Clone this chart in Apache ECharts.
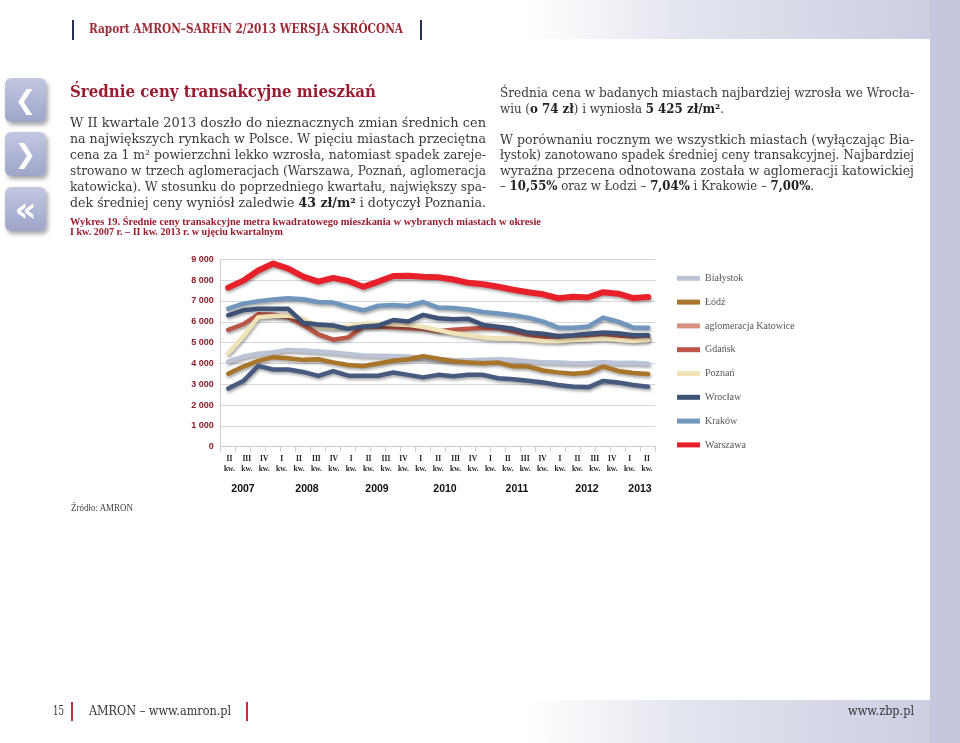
<!DOCTYPE html>
<html><head><meta charset="utf-8">
<script src="https://cdn.jsdelivr.net/npm/echarts@6/dist/echarts.min.js"></script>
<style>
html,body{margin:0;padding:0;width:960px;height:743px;overflow:hidden;background:#fff;font-family:'DejaVu Serif',serif;}
.abs{position:absolute;}
.t{position:absolute;white-space:nowrap;line-height:16px;height:16px;transform-origin:0 50%;z-index:3;color:#3a3a3a;}
.t b{font-weight:bold;color:#222;}
.box{position:absolute;left:5px;width:41px;height:44px;border-radius:6px;background:linear-gradient(#c3c7e0,#9ea5c9);box-shadow:2px 3px 4px rgba(0,0,0,0.35);color:#fff;font:bold 26px 'DejaVu Sans',sans-serif;text-align:center;line-height:44px;z-index:3;}
.bar{position:absolute;width:2px;z-index:3;}
</style></head><body>
<div class="abs" style="left:0;top:0;width:960px;height:39px;background:linear-gradient(to right,#fff 0%,#fff 55%,#e2e4ee 72%,#c9cce0 100%)"></div>
<div class="abs" style="left:0;top:700px;width:960px;height:43px;background:linear-gradient(to right,#fff 0%,#fff 55%,#e2e4ee 72%,#c9cce0 100%)"></div>
<div class="abs" style="left:930px;top:0;width:30px;height:743px;background:#c4c7dd"></div>

<div class="bar" style="left:72px;top:20px;height:20px;background:#27304f"></div>
<div class="bar" style="left:420px;top:20px;height:20px;background:#27304f"></div>
<div class="t" data-w="314" style="left:89px;top:22px;font:bold 12px 'DejaVu Serif',serif;color:#9e2a36;">Raport AMRON–SARFiN 2/2013 WERSJA SKRÓCONA</div>

<div class="box" style="top:78px">❮</div>
<div class="box" style="top:132px">❯</div>
<div class="box" style="top:187px;font-size:34px;">«</div>

<div class="t" data-w="306" style="left:70px;top:81px;height:20px;line-height:20px;font:bold 17px 'DejaVu Serif',serif;color:#9b1b30;">Średnie ceny transakcyjne mieszkań</div>

<div class="t" data-w="416" data-j="1" style="left:70px;top:115px;font-size:13px;">W II kwartale 2013 doszło do nieznacznych zmian średnich cen</div>
<div class="t" data-w="416" data-j="1" style="left:70px;top:131px;font-size:13px;">na największych rynkach w Polsce. W pięciu miastach przeciętna</div>
<div class="t" data-w="416" data-j="1" style="left:70px;top:147px;font-size:13px;">cena za 1 m² powierzchni lekko wzrosła, natomiast spadek zareje-</div>
<div class="t" data-w="416" data-j="1" style="left:70px;top:163px;font-size:13px;">strowano w trzech aglomeracjach (Warszawa, Poznań, aglomeracja</div>
<div class="t" data-w="416" data-j="1" style="left:70px;top:179px;font-size:13px;">katowicka). W stosunku do poprzedniego kwartału, największy spa-</div>
<div class="t" data-w="416" data-j="1" style="left:70px;top:195px;font-size:13px;">dek średniej ceny wyniósł zaledwie <b>43 zł/m²</b> i dotyczył Poznania.</div>

<div class="t" data-w="414" data-j="1" style="left:500px;top:85px;font-size:13px;">Średnia cena w badanych miastach najbardziej wzrosła we Wrocła-</div>
<div class="t" data-w="224" style="left:500px;top:101px;font-size:13px;">wiu (<b>o 74 zł</b>) i wyniosła <b>5 425 zł/m²</b>.</div>
<div class="t" data-w="414" data-j="1" style="left:500px;top:132px;font-size:13px;">W porównaniu rocznym we wszystkich miastach (wyłączając Bia-</div>
<div class="t" data-w="414" data-j="1" style="left:500px;top:147px;font-size:13px;">łystok) zanotowano spadek średniej ceny transakcyjnej. Najbardziej</div>
<div class="t" data-w="414" data-j="1" style="left:500px;top:163px;font-size:13px;">wyraźna przecena odnotowana została w aglomeracji katowickiej</div>
<div class="t" data-w="314" style="left:500px;top:178px;font-size:13px;">– <b>10,55%</b> oraz w Łodzi – <b>7,04%</b> i Krakowie – <b>7,00%</b>.</div>

<div class="t" data-w="471" style="left:70px;top:216px;font:bold 10px 'Liberation Serif',serif;color:#9b1b30;">Wykres 19. Średnie ceny transakcyjne metra kwadratowego mieszkania w wybranych miastach w okresie</div>
<div class="t" data-w="213" style="left:70px;top:226px;font:bold 10px 'Liberation Serif',serif;color:#9b1b30;">I kw. 2007 r. – II kw. 2013 r. w ujęciu kwartalnym</div>

<div class="t" data-w="62" style="left:71px;top:503px;font:9.5px 'Liberation Serif',serif;color:#444;">Źródło: AMRON</div>

<div class="t" data-w="11" style="left:53px;top:703px;font-size:12px;color:#333;">15</div>
<div class="bar" style="left:71px;top:702px;height:19px;width:1.5px;background:#c0303e"></div>
<div class="t" data-w="142" style="left:89px;top:703px;font-size:12px;color:#333;">AMRON – www.amron.pl</div>
<div class="bar" style="left:246px;top:702px;height:19px;width:1.5px;background:#c0303e"></div>
<div class="t" data-w="66" style="left:848px;top:703px;font-size:12px;color:#333;">www.zbp.pl</div>

<div id="chart" class="abs" style="left:0;top:0;width:960px;height:743px;z-index:2"></div>

<script>
// ---- data ----
const samplePoints = ['p1','p2','p3','p4','p5','p6','p7','p8','p9','p10','p11','p12','p13','p14','p15','p16','p17','p18','p19','p20','p21','p22','p23','p24','p25','p26','p27','p28','p29'];
const quarterLabels = ['II','III','IV','I','II','III','IV','I','II','III','IV','I','II','III','IV','I','II','III','IV','I','II','III','IV','I','II'];
const yearLabels = ['2007','2008','2009','2010','2011','2012','2013'];
const yTicks = [0,1000,2000,3000,4000,5000,6000,7000,8000,9000];

const bialystok = [4080,4330,4460,4540,4650,4620,4570,4520,4450,4380,4370,4360,4330,4250,4200,4160,4150,4170,4200,4170,4100,4050,4040,4010,4020,4050,4020,4030,3980];
const lodz      = [3500,3850,4120,4300,4250,4170,4200,4050,3920,3880,4000,4130,4200,4350,4230,4100,4050,4010,4040,3860,3850,3660,3570,3500,3560,3850,3640,3540,3490];
const katowice  = [2790,3150,3880,3710,3710,3590,3400,3630,3410,3410,3410,3560,3450,3330,3450,3380,3450,3450,3290,3240,3170,3080,2960,2880,2850,3160,3080,2960,2880];
const gdansk    = [5610,5880,6360,6340,6220,5850,5400,5140,5250,5770,5770,5740,5690,5660,5550,5620,5670,5700,5700,5540,5380,5260,5160,5220,5260,5340,5260,5160,5210];
const poznan    = [4490,5290,6220,6280,6300,6150,5750,5700,5800,5900,5900,5880,5850,5750,5600,5450,5350,5250,5200,5200,5150,5080,5070,5120,5150,5200,5130,5080,5120];
const wroclaw   = [6310,6550,6620,6620,6620,5950,5870,5820,5660,5770,5820,6080,6010,6330,6170,6120,6140,5850,5760,5660,5480,5420,5320,5350,5420,5480,5450,5350,5350];
const krakow    = [6630,6870,6990,7070,7130,7080,6950,6920,6720,6550,6770,6800,6760,6950,6680,6660,6590,6470,6400,6310,6200,6010,5720,5710,5770,6200,6010,5720,5710];
const warszawa  = [7640,7975,8460,8795,8550,8170,7925,8105,7955,7680,7925,8195,8210,8165,8140,8030,7870,7800,7680,7540,7420,7320,7130,7200,7170,7420,7350,7140,7190];

// ---- text fitting ----
document.querySelectorAll('.t').forEach(el => {
  const target = parseFloat(el.dataset.w);
  const w = el.getBoundingClientRect().width;
  if (el.dataset.j && w < target) {
    const spaces = (el.textContent.match(/ /g) || []).length;
    if (spaces) el.style.wordSpacing = ((target - w) / spaces) + 'px';
  } else {
    el.style.transform = 'scaleX(' + (target / w) + ')';
  }
});

// ---- chart ----
const chart = echarts.init(document.getElementById('chart'), null, {renderer: 'canvas'});
const shadow = {shadowColor: 'rgba(0,0,0,0.35)', shadowBlur: 3, shadowOffsetX: 1, shadowOffsetY: 2};
function mk(name, data, color, width) {
  return {
    name, type: 'line', data, xAxisIndex: 0, yAxisIndex: 0,
    symbol: 'none', smooth: false, color,
    itemStyle: {color},
    lineStyle: Object.assign({color, width: width || 4.5, cap: 'round', join: 'round'}, shadow),
    emphasis: {disabled: true}
  };
}
const seriesDefs = [
  mk('Białystok', bialystok, '#bcc3d7'),
  mk('Łódź', lodz, '#a8752b'),
  mk('aglomeracja Katowice', katowice, '#475a80'),
  mk('Gdańsk', gdansk, '#bb5646'),
  mk('Poznań', poznan, '#f1e3b8'),
  mk('Wrocław', wroclaw, '#3f5278'),
  mk('Kraków', krakow, '#7096bd'),
  mk('Warszawa', warszawa, '#e8202a', 6)
];
const legendColors = ['#bcc3d7','#a8752b','#d9927f','#bb5646','#f1e3b8','#3f5278','#7096bd','#e8202a'];
const yearX = [243, 307, 377, 445, 517, 587, 640];

const option = {
  animation: false,
  backgroundColor: 'transparent',
  grid: {left: 220.7, top: 259.3, width: 435, height: 187.4, containLabel: false},
  xAxis: [
    {type: 'category', data: samplePoints, boundaryGap: true, position: 'bottom',
     axisLine: {show: true, lineStyle: {color: '#c9ccd6', width: 1}},
     axisTick: {show: true, length: 5, interval: 0, lineStyle: {color: '#c9ccd6'}},
     axisLabel: {show: false}, splitLine: {show: false}},
    {type: 'category', data: quarterLabels.map((q, i) => q + '#' + i), boundaryGap: true, position: 'bottom',
     axisLine: {show: false}, axisTick: {show: false}, splitLine: {show: false},
     axisLabel: {interval: 0, margin: 7, formatter: v => v.split('#')[0] + '\nkw.',
       fontFamily: 'Liberation Serif', fontWeight: 'bold', fontSize: 7.5, lineHeight: 10.5, color: '#222', align: 'center'}}
  ],
  yAxis: {type: 'value', min: yTicks[0], max: yTicks[yTicks.length - 1], interval: 1000,
    axisLine: {show: true, lineStyle: {color: '#c9ccd6'}}, axisTick: {show: false},
    splitLine: {show: true, lineStyle: {color: '#d6d8df', width: 1}},
    axisLabel: {margin: 7, color: '#8c1d2b', fontFamily: 'Liberation Sans', fontWeight: 'bold', fontSize: 9,
      formatter: v => String(v).replace(/\B(?=(\d{3})+(?!\d))/g, ' ')}},
  legend: {orient: 'vertical', left: 672, top: 267.3, itemWidth: 23, itemHeight: 5, itemGap: 11.8, icon: 'rect',
    selectedMode: false,
    textStyle: {fontFamily: 'Liberation Serif', fontSize: 10, lineHeight: 12, color: '#555'},
    data: seriesDefs.map((s, i) => ({name: s.name, itemStyle: {color: legendColors[i]}}))},
  graphic: yearLabels.map((y, i) => ({type: 'text', x: yearX[i], y: 489,
    style: {text: y, font: 'bold 10.5px "Liberation Sans"', fill: '#111', align: 'center', verticalAlign: 'middle'}})),
  series: seriesDefs
};
chart.setOption(option);
</script>
</body></html>
